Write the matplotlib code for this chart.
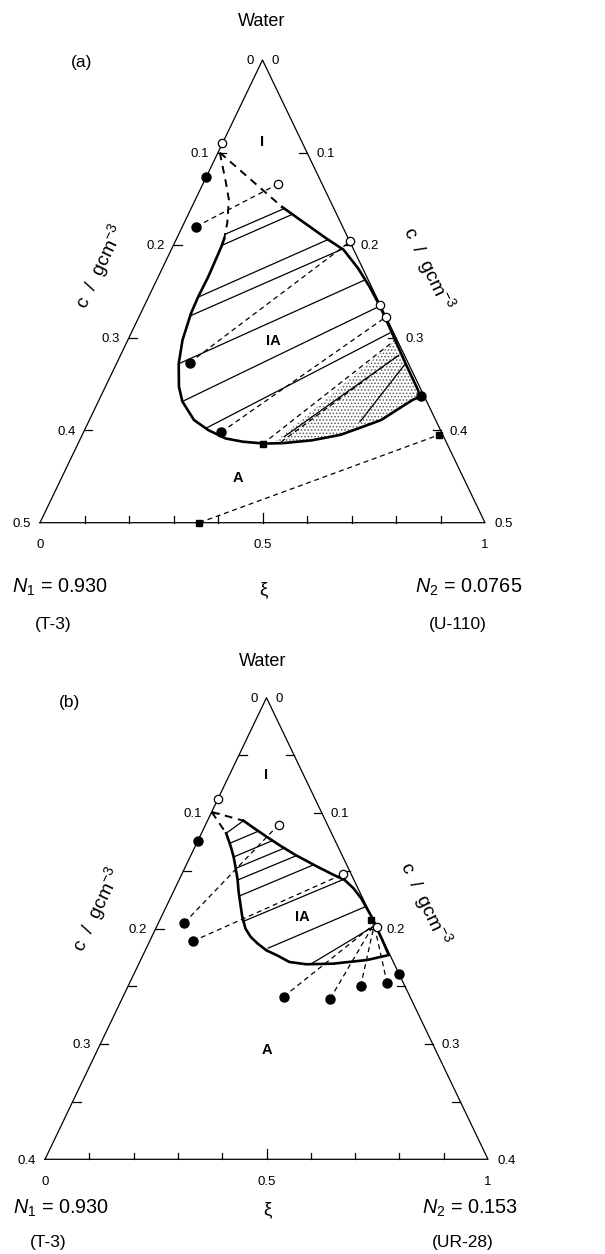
# -*- coding: utf-8 -*-
import numpy as np
import matplotlib
matplotlib.use('Agg')
import matplotlib.pyplot as plt

plt.rcParams['font.family'] = ['Liberation Sans', 'DejaVu Sans']
plt.rcParams['mathtext.fontset'] = 'custom'
plt.rcParams['mathtext.rm'] = 'Liberation Sans'
plt.rcParams['mathtext.it'] = 'Liberation Sans:italic'
plt.rcParams['hatch.linewidth'] = 0.7
plt.rcParams['hatch.color'] = '0.35'

# ========== panel (a): points as (xi, c) ==========
a_cmax = 0.5
a_side_ticks = [0.1, 0.2, 0.3, 0.4]
a_side_labels = [0, 0.1, 0.2, 0.3, 0.4, 0.5]

a_bin_xi = [0.640, 0.747, 0.873, 0.944, 0.977, 0.991, 0.996, 0.993, 0.990, 0.990, 0.988,
            0.961, 0.900, 0.843, 0.787, 0.717, 0.635, 0.556, 0.505, 0.447, 0.399, 0.348,
            0.302, 0.256, 0.234, 0.213, 0.203, 0.2065, 0.2175, 0.240, 0.2706, 0.277]
a_bin_c = [0.159, 0.173, 0.193, 0.205, 0.225, 0.245, 0.267, 0.300, 0.330, 0.355, 0.364,
           0.367, 0.378, 0.389, 0.396, 0.405, 0.411, 0.414, 0.4145, 0.4125, 0.409, 0.400,
           0.389, 0.369, 0.353, 0.328, 0.3026, 0.274, 0.256, 0.234, 0.202, 0.193]
# dashed continuation of the binodal
a_dcurve_xi = [0.02, 0.18, 0.25, 0.275, 0.277]
a_dcurve_c = [0.100, 0.130, 0.151, 0.176, 0.193]
a_dtop_xi = [0.02, 0.640]
a_dtop_c = [0.100, 0.159]

a_tie_xi = [[0.645, 0.28], [0.69, 0.275], [0.88, 0.22], [0.93, 0.21], [0.98, 0.215],
            [0.995, 0.256], [0.985, 0.34], [0.98, 0.56], [0.99, 0.78]]
a_tie_c = [[0.161, 0.188], [0.1675, 0.200], [0.194, 0.256], [0.205, 0.276], [0.238, 0.328],
           [0.266, 0.369], [0.295, 0.398], [0.319, 0.407], [0.328, 0.391]]

a_exp_xi = [[0.086, 0.63], [0.25, 0.985], [0.385, 0.99], [0.50, 0.99], [0.55, 0.985], [0.358, 0.99]]
a_exp_c = [[0.180, 0.134], [0.327, 0.198], [0.402, 0.279], [0.415, 0.303], [0.413, 0.318], [0.5, 0.405]]

a_open_xi = [0.0, 0.63, 1.0, 1.0, 1.0]
a_open_c = [0.090, 0.134, 0.196, 0.265, 0.278]
a_fill_xi = [0.0, 0.086, 0.25, 0.385, 0.99]
a_fill_c = [0.126, 0.180, 0.327, 0.402, 0.363]
a_sq_xi = [0.50, 0.358, 0.99]
a_sq_c = [0.415, 0.5, 0.405]

a_dot_xi = [0.53, 0.556, 0.635, 0.717, 0.787, 0.843, 0.900, 0.961, 0.988, 0.990, 0.993]
a_dot_c = [0.414, 0.414, 0.411, 0.405, 0.396, 0.389, 0.378, 0.367, 0.364, 0.330, 0.303]

a_regions = ['I', 'IA', 'A']
a_reg_xi = [0.5, 0.54, 0.44]
a_reg_c = [0.089, 0.304, 0.452]

# ========== panel (b): points as (xi, c) ==========
b_cmax = 0.4
b_side_ticks = [0.05, 0.1, 0.15, 0.2, 0.25, 0.3, 0.35]
b_side_labels = [0, 0.1, 0.2, 0.3, 0.4]

b_bin_xi = [0.305, 0.40, 0.50, 0.60, 0.692, 0.82, 0.90, 0.947, 0.975, 0.992, 1.0, 0.998, 0.995,
            0.90, 0.76, 0.655, 0.59, 0.545, 0.50, 0.462, 0.43, 0.405, 0.385, 0.37, 0.35,
            0.335, 0.31, 0.285, 0.25, 0.19]
b_bin_c = [0.1066, 0.113, 0.1204, 0.1285, 0.1363, 0.147, 0.154, 0.158, 0.165, 0.174, 0.19, 0.21, 0.223,
           0.2273, 0.2305, 0.231, 0.229, 0.2235, 0.219, 0.213, 0.207, 0.200, 0.19, 0.18, 0.168,
           0.158, 0.147, 0.138, 0.129, 0.1175]
b_dleft_xi = [0.0, 0.19]
b_dleft_c = [0.099, 0.1175]
b_dtop_xi = [0.0, 0.305]
b_dtop_c = [0.099, 0.1066]

b_tie_xi = [[0.19, 0.305], [0.24, 0.43], [0.285, 0.54], [0.31, 0.63], [0.335, 0.695],
            [0.355, 0.79], [0.39, 0.95], [0.507, 0.995], [0.68, 0.99]]
b_tie_c = [[0.1175, 0.1066], [0.126, 0.116], [0.138, 0.124], [0.148, 0.130], [0.158, 0.137],
           [0.172, 0.145], [0.194, 0.157], [0.217, 0.181], [0.23, 0.198]]

b_exp_xi = [[0.12, 0.6], [0.185, 0.95], [0.56, 0.99], [0.72, 0.99], [0.84, 0.99], [0.94, 0.99]]
b_exp_c = [[0.195, 0.11], [0.211, 0.153], [0.259, 0.197], [0.261, 0.197], [0.25, 0.198], [0.2475, 0.2]]

b_open_xi = [0.0, 0.6, 0.95, 1.0]
b_open_c = [0.088, 0.11, 0.153, 0.199]
b_fill_xi = [0.0, 0.12, 0.185, 0.56, 0.72, 0.84, 0.94, 1.0]
b_fill_c = [0.124, 0.195, 0.211, 0.259, 0.261, 0.25, 0.2475, 0.239]
b_sq_xi = [0.99]
b_sq_c = [0.193]

b_regions = ['I', 'IA', 'A']
b_reg_xi = [0.5, 0.67, 0.5]
b_reg_c = [0.067, 0.19, 0.305]

xi_ticks = [0.1, 0.2, 0.3, 0.4, 0.5, 0.6, 0.7, 0.8, 0.9]
xi_labels = [0, 0.5, 1]

W, H = 605, 1254
fig = plt.figure(figsize=(W / 100, H / 100), dpi=100)


def tri(xi, c, cmax):
    xi = np.asarray(xi, dtype=float)
    c = np.asarray(c, dtype=float)
    return (xi - 0.5) * c / cmax, c / cmax


def panel_frame(ax, cmax, side_ticks, side_labels, pw, ph):
    ax.set_xlim(-0.5, 0.5)
    ax.set_ylim(1, 0)
    ax.axis('off')
    ax.plot([-0.5, 0, 0.5, -0.5], [1, 0, 1, 1], color='k', lw=0.9, clip_on=False)
    tl = 8.0 / pw
    for v in side_ticks:
        x, y = tri(0, v, cmax)
        ax.plot([x, x + tl], [y, y], color='k', lw=0.9, clip_on=False)
        x, y = tri(1, v, cmax)
        ax.plot([x, x - tl], [y, y], color='k', lw=0.9, clip_on=False)
    for v in side_labels:
        x, y = tri(0, v, cmax)
        ax.annotate(f'{v:g}', (x, y), xytext=(-6.5, -1), textcoords='offset points',
                    ha='right', va='center', fontsize=9.5)
        x, y = tri(1, v, cmax)
        ax.annotate(f'{v:g}', (x, y), xytext=(6.5, -1), textcoords='offset points',
                    ha='left', va='center', fontsize=9.5)
    for v in xi_ticks:
        x, y = tri(v, cmax, cmax)
        h = (10.0 if v == 0.5 else 6.5) / ph
        ax.plot([x, x], [y, y - h], color='k', lw=0.9, clip_on=False)
    for v in xi_labels:
        x, y = tri(v, cmax, cmax)
        ax.annotate(f'{v:g}', (x, y), xytext=(0, -16), textcoords='offset points',
                    ha='center', va='center', fontsize=9.5)


def draw_pairs(ax, xs, cs, cmax, **kw):
    for xp, cp in zip(xs, cs):
        x, y = tri(xp, cp, cmax)
        ax.plot(x, y, color='k', clip_on=False, **kw)


def draw_marks(ax, cmax, open_xi, open_c, fill_xi, fill_c, sq_xi, sq_c):
    x, y = tri(open_xi, open_c, cmax)
    ax.plot(x, y, 'o', ms=6, mfc='white', mec='k', mew=0.9, clip_on=False, zorder=5)
    x, y = tri(fill_xi, fill_c, cmax)
    ax.plot(x, y, 'o', ms=6.5, mfc='k', mec='k', clip_on=False, zorder=5)
    x, y = tri(sq_xi, sq_c, cmax)
    ax.plot(x, y, 's', ms=5, mfc='k', mec='k', clip_on=False, zorder=5)


def ftext(x, y, s, **kw):
    fig.text(x / W, 1 - y / H, s, **kw)


dash = (0, (4, 3))
c_label = r'c  /  gcm$^{-3}$'

# ---------- (a) ----------
axa = fig.add_axes([40 / W, 1 - 522.7 / H, 445 / W, 462.7 / H])
panel_frame(axa, a_cmax, a_side_ticks, a_side_labels, 445, 462.7)
x, y = tri(a_dot_xi, a_dot_c, a_cmax)
axa.fill(x, y, facecolor='none', edgecolor='0.35', hatch='.....', lw=0, zorder=1)
x, y = tri(a_bin_xi, a_bin_c, a_cmax)
axa.plot(x, y, color='k', lw=1.9, zorder=3)
x, y = tri(a_dcurve_xi, a_dcurve_c, a_cmax)
axa.plot(x, y, color='k', lw=1.4, ls=dash)
x, y = tri(a_dtop_xi, a_dtop_c, a_cmax)
axa.plot(x, y, color='k', lw=1.4, ls=dash)
draw_pairs(axa, a_tie_xi, a_tie_c, a_cmax, lw=0.9)
draw_pairs(axa, a_exp_xi, a_exp_c, a_cmax, lw=0.9, ls=dash)
draw_marks(axa, a_cmax, a_open_xi, a_open_c, a_fill_xi, a_fill_c, a_sq_xi, a_sq_c)
for s, xv, cv in zip(a_regions, a_reg_xi, a_reg_c):
    x, y = tri(xv, cv, a_cmax)
    axa.text(x, y, s, ha='center', va='center', fontsize=10.5, fontweight='bold')

ftext(262, 22, 'Water', ha='center', va='center', fontsize=13)
ftext(82, 63, '(a)', ha='center', va='center', fontsize=12.5)
ftext(100, 266, c_label, ha='center', va='center', fontsize=14, rotation=64.3)
ftext(428, 268, c_label, ha='center', va='center', fontsize=14, rotation=-64.3)
ftext(12, 587, r'$N_1$ = 0.930', ha='left', va='center', fontsize=14.3)
ftext(263, 590, 'ξ', ha='center', va='center', fontsize=13.5)
ftext(522, 587, r'$N_2$ = 0.0765', ha='right', va='center', fontsize=14.3)
ftext(35, 625, '(T-3)', ha='left', va='center', fontsize=12.5)
ftext(458, 625, '(U-110)', ha='center', va='center', fontsize=12.5)

# ---------- (b) ----------
axb = fig.add_axes([45 / W, 1 - 1159.3 / H, 443 / W, 461.6 / H])
panel_frame(axb, b_cmax, b_side_ticks, b_side_labels, 443, 461.6)
x, y = tri(b_bin_xi, b_bin_c, b_cmax)
axb.plot(x, y, color='k', lw=1.9, zorder=3)
x, y = tri(b_dleft_xi, b_dleft_c, b_cmax)
axb.plot(x, y, color='k', lw=1.4, ls=dash)
x, y = tri(b_dtop_xi, b_dtop_c, b_cmax)
axb.plot(x, y, color='k', lw=1.4, ls=dash)
draw_pairs(axb, b_tie_xi, b_tie_c, b_cmax, lw=0.9)
draw_pairs(axb, b_exp_xi, b_exp_c, b_cmax, lw=0.9, ls=dash)
draw_marks(axb, b_cmax, b_open_xi, b_open_c, b_fill_xi, b_fill_c, b_sq_xi, b_sq_c)
for s, xv, cv in zip(b_regions, b_reg_xi, b_reg_c):
    x, y = tri(xv, cv, b_cmax)
    axb.text(x, y, s, ha='center', va='center', fontsize=10.5, fontweight='bold')

ftext(263, 662, 'Water', ha='center', va='center', fontsize=13)
ftext(70, 702, '(b)', ha='center', va='center', fontsize=12.5)
ftext(97, 909, c_label, ha='center', va='center', fontsize=14, rotation=64.4)
ftext(425, 903, c_label, ha='center', va='center', fontsize=14, rotation=-64.4)
ftext(13, 1208, r'$N_1$ = 0.930', ha='left', va='center', fontsize=14.3)
ftext(267, 1210, 'ξ', ha='center', va='center', fontsize=13.5)
ftext(518, 1208, r'$N_2$ = 0.153', ha='right', va='center', fontsize=14.3)
ftext(30, 1242, '(T-3)', ha='left', va='center', fontsize=12.5)
ftext(463, 1242, '(UR-28)', ha='center', va='center', fontsize=12.5)

fig.savefig('out.png', dpi=100)
